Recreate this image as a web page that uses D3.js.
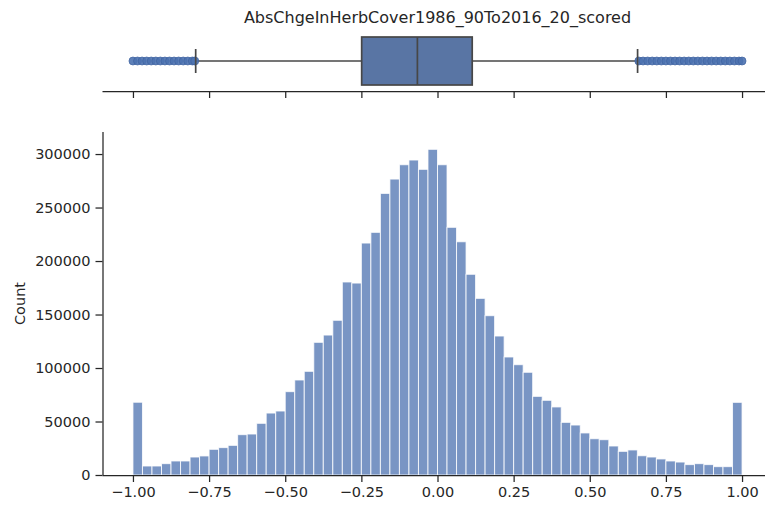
<!DOCTYPE html>
<html>
<head>
<meta charset="utf-8">
<script src="https://cdn.jsdelivr.net/npm/d3@7"></script>
<style>
  html, body { margin: 0; padding: 0; background: #ffffff; }
  svg { display: block; }
  text { font-family: "DejaVu Sans", sans-serif; fill: #262626; }
</style>
</head>
<body>
<svg id="chart" width="765" height="506"></svg>
<script>
// ---------- data ----------
const title = "AbsChgeInHerbCover1986_90To2016_20_scored";
const binStart = -1.0;
const binWidth = 0.03125;
const counts = [
  68000, 8400, 8400, 10600, 13100, 13100, 16800, 17800, 24000, 25600,
  27700, 37700, 38300, 48300, 57900, 59800, 77900, 88800, 96900, 124000,
  130800, 144600, 180400, 179400, 216800, 226800, 263200, 276600, 290000, 294400,
  285700, 304400, 290000, 231500, 218000, 187600, 165100, 148900, 129900, 110300,
  103100, 96000, 73500, 69800, 63600, 49200, 46700, 39300, 33900, 33000,
  27100, 22100, 23400, 18000, 16800, 15000, 13100, 12100, 9700, 10600,
  9700, 7800, 7800, 67900
];
const xTicks = [-1.0, -0.75, -0.5, -0.25, 0.0, 0.25, 0.5, 0.75, 1.0];
const yTicks = [0, 50000, 100000, 150000, 200000, 250000, 300000];
// box plot summary
const boxQ1 = -0.249, boxMedian = -0.066, boxQ3 = 0.114;
const whiskerLow = -0.794, whiskerHigh = 0.657;
const lowerFliers = [-1.0, -0.985, -0.97, -0.955, -0.94, -0.925, -0.91, -0.895, -0.88, -0.865, -0.85, -0.835, -0.82, -0.805, -0.797];
const upperFliers = [0.661, 0.675, 0.69, 0.705, 0.72, 0.735, 0.75, 0.765, 0.78, 0.795, 0.81, 0.825, 0.84, 0.855, 0.87, 0.885, 0.9, 0.915, 0.93, 0.945, 0.96, 0.975, 0.99, 1.0];

// ---------- layout ----------
const svg = d3.select("#chart");
const ink = "#262626";
const barFill = "#7995c4";
const boxFill = "#5975a4";
const lineGray = "#474747";

const x = d3.scaleLinear().domain([-1.1, 1.1]).range([102.5, 772.5]);
const y = d3.scaleLinear().domain([0, 320600]).range([475, 132]);

// ---------- histogram ----------
const bins = counts.map((c, i) => ({ x0: binStart + i * binWidth, x1: binStart + (i + 1) * binWidth, c }));
svg.append("g").selectAll("rect").data(bins).join("rect")
  .attr("x", d => x(d.x0))
  .attr("width", d => x(d.x1) - x(d.x0))
  .attr("y", d => y(d.c))
  .attr("height", d => y(0) - y(d.c))
  .attr("fill", barFill)
  .attr("stroke", "#ffffff")
  .attr("stroke-opacity", 0.8)
  .attr("stroke-width", 1);

// x axis
const xAxis = svg.append("g").attr("transform", `translate(0,${y(0)})`)
  .call(d3.axisBottom(x).tickValues(xTicks).tickFormat(d3.format(".2f")).tickSize(7).tickPadding(5));
xAxis.select(".domain").attr("d", `M${x(-1.1)},0.5H${x(1.1)}`);
// y axis
const yAxis = svg.append("g").attr("transform", `translate(${x(-1.1)},0)`)
  .call(d3.axisLeft(y).tickValues(yTicks).tickFormat(d3.format("d")).tickSize(7).tickPadding(5));
yAxis.select(".domain").attr("d", `M0.5,${y(0)}V${y(320600)}`);

[xAxis, yAxis].forEach(g => {
  g.select(".domain").attr("stroke", ink).attr("stroke-width", 1.25);
  g.selectAll(".tick line").attr("stroke", ink).attr("stroke-width", 1.25);
  g.selectAll(".tick text").attr("font-size", 14.5).attr("fill", ink)
    .style("font-family", '"DejaVu Sans", sans-serif');
});
xAxis.selectAll(".tick text").text(d => d3.format(".2f")(d).replace("-", "\u2212"));

svg.append("text")
  .attr("transform", `translate(25,${(y(0) + y(320600)) / 2}) rotate(-90)`)
  .attr("text-anchor", "middle")
  .attr("font-size", 14.5)
  .text("Count");

// ---------- box plot ----------
const boxTop = 31, boxBottom = 91;
const by = d3.scaleLinear().domain([-0.5, 0.5]).range([boxTop, boxBottom]);
const bg = svg.append("g");

// axis (bottom spine with ticks, no labels)
const bAxis = bg.append("g").attr("transform", `translate(0,${boxBottom})`)
  .call(d3.axisBottom(x).tickValues(xTicks).tickFormat("").tickSize(7));
bAxis.select(".domain").attr("d", `M${x(-1.1)},0.5H${x(1.1)}`).attr("stroke", ink).attr("stroke-width", 1.25);
bAxis.selectAll(".tick line").attr("stroke", ink).attr("stroke-width", 1.25);

// whisker lines
bg.append("line").attr("x1", x(whiskerLow)).attr("x2", x(boxQ1)).attr("y1", by(0)).attr("y2", by(0))
  .attr("stroke", lineGray).attr("stroke-width", 1.7);
bg.append("line").attr("x1", x(boxQ3)).attr("x2", x(whiskerHigh)).attr("y1", by(0)).attr("y2", by(0))
  .attr("stroke", lineGray).attr("stroke-width", 1.7);

// fliers
const fl = lowerFliers.concat(upperFliers);
bg.append("g").selectAll("circle").data(fl).join("circle")
  .attr("cx", d => x(d)).attr("cy", by(0)).attr("r", 4)
  .attr("fill", "#4c72b0").attr("fill-opacity", 0.9)
  .attr("stroke", "#3f62a0").attr("stroke-opacity", 0.7).attr("stroke-width", 1);

// caps
[whiskerLow, whiskerHigh].forEach(v => {
  bg.append("line").attr("x1", x(v)).attr("x2", x(v)).attr("y1", by(-0.2)).attr("y2", by(0.2))
    .attr("stroke", lineGray).attr("stroke-width", 1.7);
});

// box
bg.append("rect")
  .attr("x", x(boxQ1)).attr("width", x(boxQ3) - x(boxQ1))
  .attr("y", by(-0.4)).attr("height", by(0.4) - by(-0.4))
  .attr("fill", boxFill).attr("stroke", lineGray).attr("stroke-width", 1.7);
bg.append("line").attr("x1", x(boxMedian)).attr("x2", x(boxMedian)).attr("y1", by(-0.4)).attr("y2", by(0.4))
  .attr("stroke", lineGray).attr("stroke-width", 1.7);

// title
svg.append("text")
  .attr("x", (x(-1.1) + x(1.1)) / 2).attr("y", 23)
  .attr("text-anchor", "middle")
  .attr("font-size", 16)
  .text(title);
</script>
</body>
</html>
